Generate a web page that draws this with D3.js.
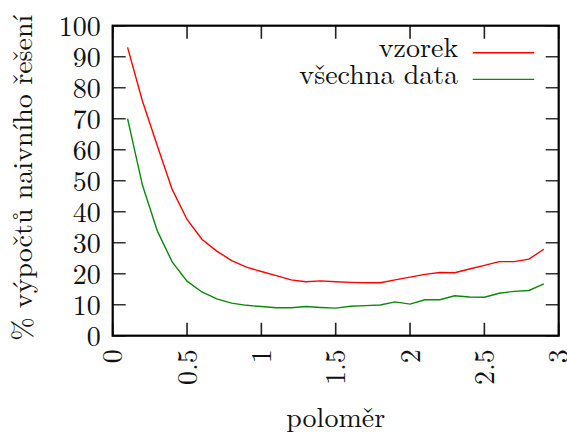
<!DOCTYPE html>
<html>
<head>
<meta charset="utf-8">
<script src="https://cdn.jsdelivr.net/npm/d3@7"></script>
<style>
body { margin: 0; background: #fff; }
svg text { fill: #111; }
</style>
</head>
<body>
<div id="chart"></div>
<script>
var width = 567;
var height = 436;
var margin = {top: 25.7, right: 8.3, bottom: 100.3, left: 112.7};
var fontStack = "'Latin Modern Roman', 'CMU Serif', 'Liberation Serif', 'DejaVu Serif', serif";

// polomer values (x)
var polomer = [0.1, 0.2, 0.3, 0.4, 0.5, 0.6, 0.7, 0.8, 0.9, 1.0,
               1.1, 1.2, 1.3, 1.4, 1.5, 1.6, 1.7, 1.8, 1.9, 2.0,
               2.1, 2.2, 2.3, 2.4, 2.5, 2.6, 2.7, 2.8, 2.9];
var vzorek = [93.0, 75.7, 61.3, 47.2, 37.5, 31.1, 27.3, 24.2, 22.1, 20.7,
              19.4, 18.0, 17.4, 17.7, 17.4, 17.2, 17.1, 17.1, 18.0, 18.9,
              19.8, 20.4, 20.3, 21.5, 22.7, 23.9, 23.9, 24.7, 27.9];
var vsechnaData = [70.0, 48.6, 33.8, 23.8, 17.6, 14.1, 11.9, 10.5, 9.8, 9.4,
                   9.0, 9.0, 9.4, 9.1, 8.9, 9.5, 9.7, 9.9, 10.9, 10.2,
                   11.6, 11.6, 12.9, 12.5, 12.4, 13.7, 14.3, 14.6, 16.7];
var xTicks = [0, 0.5, 1, 1.5, 2, 2.5, 3];
var yTicks = [0, 10, 20, 30, 40, 50, 60, 70, 80, 90, 100];
var seriesNames = ["vzorek", "všechna data"];
var seriesColors = ["#ff0000", "#0a8a0a"];

var w = width - margin.left - margin.right;
var h = height - margin.top - margin.bottom;

var svg = d3.select("#chart").append("svg")
  .attr("width", width)
  .attr("height", height);

var g = svg.append("g")
  .attr("transform", "translate(" + margin.left + "," + margin.top + ")");

var x = d3.scaleLinear().domain([0, 3]).range([0, w]);
var y = d3.scaleLinear().domain([0, 100]).range([h, 0]);

var tickLen = 13;

// ticks, mirrored on all four sides (gnuplot style)
g.selectAll(".xt").data(xTicks).enter().append("path")
  .attr("d", function (d) {
    return "M" + x(d) + "," + h + "v" + (-tickLen) + "M" + x(d) + ",0v" + tickLen;
  })
  .attr("stroke", "#222").attr("stroke-width", 1.6);
g.selectAll(".yt").data(yTicks).enter().append("path")
  .attr("d", function (d) {
    return "M0," + y(d) + "h" + tickLen + "M" + w + "," + y(d) + "h" + (-tickLen);
  })
  .attr("stroke", "#333").attr("stroke-width", 1.6);

// tick labels
g.selectAll(".yl").data(yTicks).enter().append("text")
  .attr("x", -12)
  .attr("y", function (d) { return y(d); })
  .attr("dy", "0.36em")
  .attr("text-anchor", "end")
  .style("font-family", fontStack)
  .style("font-size", "28px")
  .text(function (d) { return d; });

g.selectAll(".xl").data(xTicks).enter().append("text")
  .attr("transform", function (d) {
    return "translate(" + (x(d) + 9.5) + "," + (h + 13.5) + ") rotate(-90)";
  })
  .attr("text-anchor", "end")
  .style("font-family", fontStack)
  .style("font-size", "28px")
  .text(function (d) { return d; });

// axis titles
g.append("text")
  .attr("x", w / 2)
  .attr("y", h + 91)
  .attr("text-anchor", "middle")
  .style("font-family", fontStack)
  .style("font-size", "28px")
  .text("poloměr");

svg.append("text")
  .attr("transform", "translate(32," + (margin.top + h / 2 - 3) + ") rotate(-90)")
  .attr("text-anchor", "middle")
  .style("font-family", fontStack)
  .style("font-size", "28px")
  .text("% výpočtů naivního řešení");

// lines
var line = d3.line()
  .x(function (d) { return x(d[0]); })
  .y(function (d) { return y(d[1]); });

var series = [vzorek, vsechnaData];
series.forEach(function (vals, i) {
  g.append("path")
    .datum(polomer.map(function (p, j) { return [p, vals[j]]; }))
    .attr("d", line)
    .attr("fill", "none")
    .attr("stroke", seriesColors[i])
    .attr("stroke-width", 1.4);
});

// legend
var leg = g.selectAll(".leg").data(seriesNames).enter().append("g")
  .attr("transform", function (d, i) { return "translate(0," + (27 + i * 26.7) + ")"; });
leg.append("text")
  .attr("x", 345.5)
  .attr("y", 4.6)
  .attr("text-anchor", "end")
  .style("font-family", fontStack)
  .style("font-size", "28px")
  .text(function (d) { return d; });
leg.append("line")
  .attr("x1", 360).attr("x2", 421.5)
  .attr("y1", 0).attr("y2", 0)
  .attr("stroke", function (d, i) { return seriesColors[i]; })
  .attr("stroke-width", 1.4);

// frame
g.append("rect")
  .attr("width", w).attr("height", h)
  .attr("fill", "none")
  .attr("stroke", "#000")
  .attr("stroke-width", 2.2);
</script>
</body>
</html>
